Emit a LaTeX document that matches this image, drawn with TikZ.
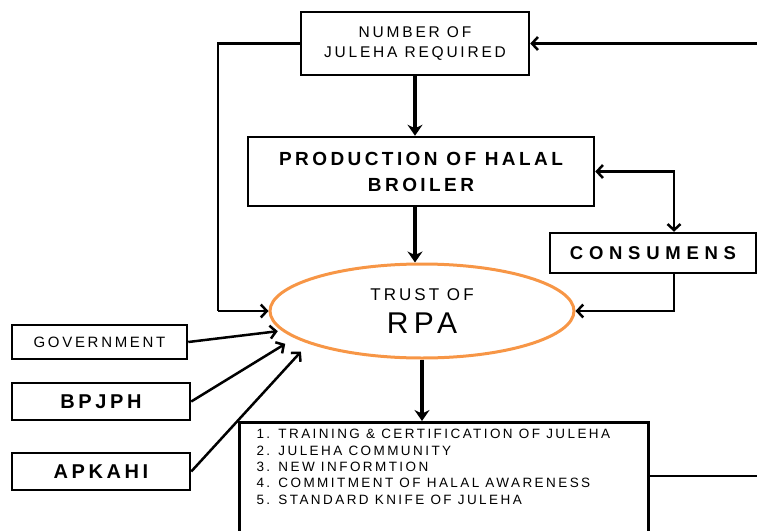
\documentclass[tikz,border=0pt]{standalone}
\usepackage{fontspec}
\setmainfont[LetterSpace=18]{Liberation Sans}
\usetikzlibrary{arrows.meta,shapes.geometric}

\definecolor{trustorange}{RGB}{247,150,70}

\begin{document}
\begin{tikzpicture}[
            x=1pt, y=-1pt,
            box/.style={draw, line width=2.5pt, inner sep=0pt, align=center},
            bold box/.style={box, font=\fontsize{20}{24}\selectfont\bfseries},
            thin arrow/.style={line width=2.5pt, -{Straight Barb[length=6pt,width=13pt]}},
            both arrow/.style={line width=2.5pt, {Straight Barb[length=6pt,width=13pt]}-{Straight Barb[length=6pt,width=13pt]}},
            down arrow/.style={line width=4pt, -{Stealth[length=11pt,width=15pt]}},
            plain line/.style={line width=2.5pt}
        ]
        \useasboundingbox (0,0) rectangle (757,530);
        \clip (0,0) rectangle (757,530);

        \node[box, minimum width=228pt, minimum height=63pt, font=\fontsize{15.5}{20}\selectfont] (req) at (415,43.5) {NUMBER OF\\JULEHA REQUIRED};
        \node[box, minimum width=346pt, minimum height=69pt, font=\fontsize{19}{26}\selectfont\bfseries] (prod) at (421,171.5) {PRODUCTION OF HALAL\\BROILER};
        \node[box, minimum width=206pt, minimum height=40pt, font=\fontsize{18.5}{22}\selectfont\bfseries\addfontfeature{LetterSpace=31}] (cons) at (653,253) {CONSUMENS};
        \node[ellipse, draw=trustorange, line width=3pt, minimum width=304pt, minimum height=94pt, inner sep=0pt, align=center, font=\fontsize{17}{20}\selectfont] (trust) at (422,311) {TRUST OF\\[12pt]{\fontsize{30}{30}\selectfont RPA}};
        \node[box, minimum width=175pt, minimum height=34pt, font=\fontsize{15}{18}\selectfont] (gov) at (99.5,342) {GOVERNMENT};
        \node[bold box, minimum width=178pt, minimum height=37pt] (bpjph) at (101,401.5) {BPJPH};
        \node[bold box, minimum width=178pt, minimum height=37pt] (apkahi) at (101,471.5) {APKAHI};
        \node[draw, line width=3pt, anchor=north west, inner xsep=17pt, inner ysep=7pt, font=\fontsize{13.5}{16.3}\selectfont] (plan) at (238,421) {\parbox[t][110pt][t]{375pt}{\raggedright
            1. TRAINING \& CERTIFICATION OF JULEHA\\
            2. JULEHA COMMUNITY\\
            3. NEW INFORMTION\\
            4. COMMITMENT OF HALAL AWARENESS\\
            5. STANDARD KNIFE OF JULEHA}};

        \coordinate (lcorner) at (218,311);
        \coordinate (rtop) at (757,43.5);
        \coordinate (rbot) at (757,476);

        \draw[plain line] (req.west) -| (lcorner);
        \draw[thin arrow] (lcorner) -- (trust.west);
        \draw[thin arrow] (rtop) -- (req.east);
        \draw[down arrow] (req.south) -- (req.south |- prod.north);
        \draw[down arrow] (req.south |- prod.south) -- (req.south |- trust.north);
        \draw[both arrow] (prod.east) -| ([xshift=21pt]cons.north);
        \draw[thin arrow] ([xshift=21pt]cons.south) |- (trust.east);
        \draw[thin arrow, shorten >=4pt] (gov.east) -- (trust.188);
        \draw[thin arrow, shorten >=11pt] (bpjph.east) -- (trust.192);
        \draw[thin arrow, shorten >=11pt] (apkahi.east) -- (trust.196);
        \draw[down arrow] (trust.south) -- (trust.south |- plan.north);
        \draw[plain line] (rbot -| plan.east) -- (rbot);
    \end{tikzpicture}
\end{document}
